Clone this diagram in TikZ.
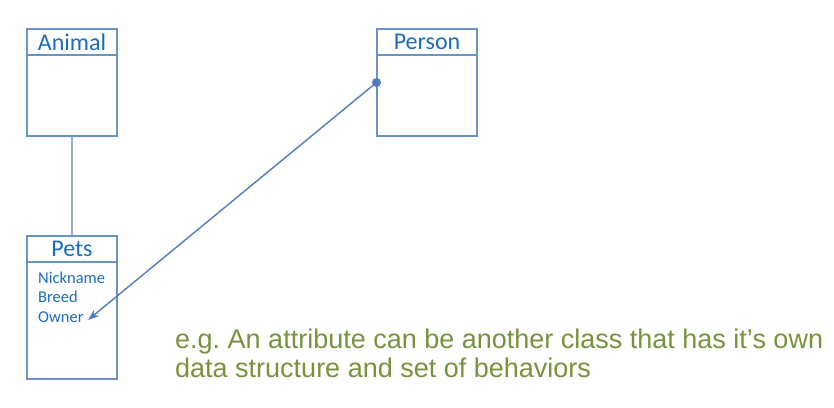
\documentclass[tikz,border=0pt]{standalone}
\usepackage{fontspec}
\setmainfont{Carlito}
\newfontfamily\notefont{Liberation Sans}
\usetikzlibrary{arrows.meta, calc, positioning}
\definecolor{boxline}{HTML}{6A93CE}
\definecolor{boxtext}{HTML}{1A6CC0}
\definecolor{linkline}{HTML}{4F7EC0}
\definecolor{linkgrey}{HTML}{93AED6}
\definecolor{noteolive}{HTML}{77933C}
\frenchspacing

\begin{document}
\begin{tikzpicture}[x=1pt, y=-1pt, >={Stealth[length=11pt, width=8pt, inset=3pt]},
  classbox/.style={draw=boxline, line width=1.1pt, minimum width=90pt, inner sep=0pt},
  classhead/.style={draw=boxline, line width=1.1pt, minimum width=90pt, minimum height=26pt, inner sep=0pt,
    anchor=north, text=boxtext, font=\fontsize{24}{24}\selectfont},
  attrs/.style={text=boxtext, align=left, inner sep=0pt, font=\fontsize{16.5}{19.5}\selectfont},
  note/.style={text=noteolive, align=left, inner sep=0pt, font=\notefont\fontsize{27}{29}\selectfont}]
  \useasboundingbox (0,0) rectangle (834,407);

  \node[classbox, minimum height=107pt] (animal) at (72,82.5) {};
  \node[classhead] (animalHead) at (animal.north) {Animal};

  \node[classbox, minimum height=143pt] (pets) at (72,307.5) {};
  \node[classhead] (petsHead) at (pets.north) {Pets};
  \node[attrs, anchor=base west] (petsAttrs) at (38,322) {Nickname\\Breed\\Owner};

  \node[classbox, minimum width=100pt, minimum height=107pt] (person) at (427,82.5) {};
  \node[classhead, minimum width=100pt] (personHead) at (person.north) {Person};

  \coordinate (ownerEnd) at (88,320);
  \draw[linkgrey, line width=2pt] (animal.south) -- (petsHead.north);
  \fill[linkline] (person.west) circle (4.5pt);
  \draw[->, linkline, line width=1.4pt] (person.west) -- (ownerEnd);

  \node[note, anchor=base west] (remark) at (175,377)
    {e.g. An attribute can be another class that has it’s own\\data structure and set of behaviors};
\end{tikzpicture}
\end{document}
